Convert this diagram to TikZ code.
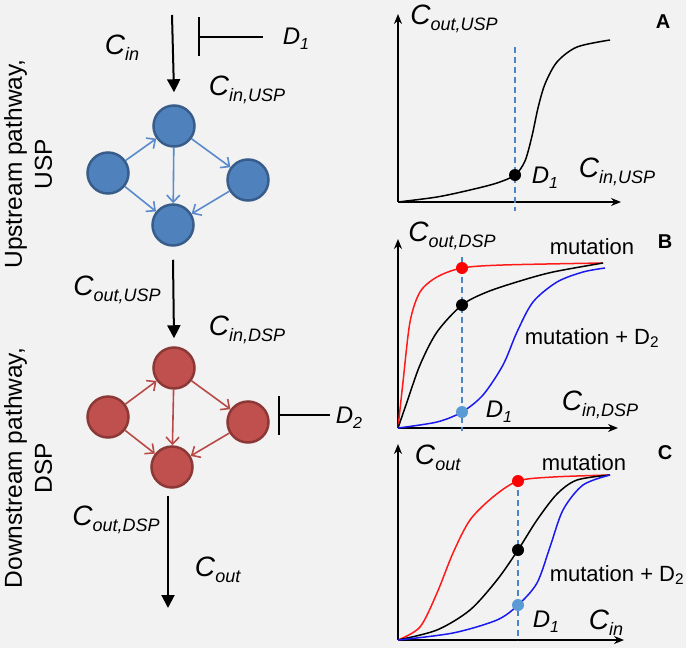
\documentclass[tikz,border=0pt]{standalone}
\usepackage{fontspec}
\setmainfont{Liberation Sans}
\usetikzlibrary{arrows.meta}

\definecolor{bg}{HTML}{F2F2F2}
\definecolor{uspfill}{HTML}{4F81BD}
\definecolor{uspdraw}{HTML}{385D8A}
\definecolor{uspedge}{HTML}{5A8ACB}
\definecolor{dspfill}{HTML}{C0504D}
\definecolor{dspdraw}{HTML}{8C3836}
\definecolor{dspedge}{HTML}{B84A47}
\definecolor{cutblue}{HTML}{4A86C5}
\definecolor{dotblue}{HTML}{5B9BD5}
\definecolor{mutred}{HTML}{FF1A1A}
\definecolor{drugblue}{HTML}{1A1AF0}

% concentration labels: big italic letter, lowered italic index
\newcommand\clbl[2]{\textit{#1}\raisebox{-6pt}{\fontsize{18}{18}\selectfont\textit{#2}}}
\newcommand\dlbl[2]{\textit{#1}\raisebox{-5pt}{\fontsize{16}{16}\selectfont\textit{#2}}}

\tikzset{
  lbl/.style={inner sep=0pt, font=\fontsize{28}{30}\selectfont},
  drug/.style={inner sep=0pt, font=\fontsize{24}{26}\selectfont},
  txt/.style={inner sep=0pt, font=\fontsize{22}{24}\selectfont},
  panel/.style={inner sep=0pt, font=\fontsize{20}{20}\selectfont\bfseries},
  side/.style={inner sep=0pt, font=\fontsize{24.5}{30}\selectfont, align=center, rotate=90, anchor=north},
  usp/.style={circle, draw=uspdraw, fill=uspfill, line width=2.5pt, minimum size=41pt, inner sep=0pt},
  dsp/.style={circle, draw=dspdraw, fill=dspfill, line width=2.5pt, minimum size=41pt, inner sep=0pt},
  uedge/.style={uspedge, line width=1.6pt, -{Straight Barb[length=7pt,width=13pt]}},
  dedge/.style={dspedge, line width=1.6pt, -{Straight Barb[length=7pt,width=13pt]}},
  flow/.style={line width=2pt, -{Triangle[length=13pt,width=13pt]}},
  inh/.style={line width=2.5pt},
  axis/.style={line width=1.5pt, -{Stealth[length=10pt,width=8pt]}},
  cut/.style={cutblue, line width=1.5pt, dash pattern=on 6pt off 4pt},
  curve/.style={line width=1.5pt},
  dot/.style={circle, inner sep=0pt, minimum size=12pt}
}

\begin{document}
\begin{tikzpicture}[x=1pt, y=-1pt]
  \fill[bg] (0,0) rectangle (686,648);
  \useasboundingbox (0,0) rectangle (686,648);

  % Side titles
  \node[side] (uptitle) at (4,164) {Upstream pathway,\\USP};
  \node[side] (dntitle) at (4,468) {Downstream pathway,\\DSP};

  % Upstream pathway
  \node[usp] (ut) at (174,126) {};
  \node[usp] (ul) at (108,173) {};
  \node[usp] (ur) at (248,180) {};
  \node[usp] (ub) at (173,225) {};
  \draw[uedge] (ul) -- (ut);
  \draw[uedge] (ul) -- (ub);
  \draw[uedge] (ut) -- (ub);
  \draw[uedge] (ut) -- (ur);
  \draw[uedge] (ur) -- (ub);

  \coordinate (cin) at (172,15);
  \draw[flow] (cin) -- ([yshift=12pt]ut.north);
  \node[lbl] (cinlbl) at (122,48) {\clbl{C}{in}};
  \node[lbl] (cinusp) at (247,90) {\clbl{C}{in,USP}};

  % Drug 1 blocks the input
  \node[drug] (d1) at (296,39) {\dlbl{D}{1}};
  \coordinate (bar1) at (199,37);
  \draw[inh] (199,17) -- (199,56);
  \draw[inh] ([xshift=-20pt]d1.west |- bar1) -- (bar1);

  % Downstream pathway
  \node[dsp] (rt) at (174,368) {};
  \node[dsp] (rl) at (108,417) {};
  \node[dsp] (rr) at (248,422) {};
  \node[dsp] (rb) at (172,467) {};
  \draw[dedge] (rl) -- (rt);
  \draw[dedge] (rl) -- (rb);
  \draw[dedge] (rt) -- (rb);
  \draw[dedge] (rt) -- (rr);
  \draw[dedge] (rr) -- (rb);

  \draw[flow] ([yshift=-13pt]ub.south) -- ([yshift=8pt]rt.north);
  \node[lbl] (coutusp) at (117,290) {\clbl{C}{out,USP}};
  \node[lbl] (cindsp) at (247,330) {\clbl{C}{in,DSP}};

  % Drug 2 acts on the DSP
  \node[drug] (d2) at (349,418) {\dlbl{D}{2}};
  \coordinate (bar2) at (279,415);
  \draw[inh] (279,396) -- (279,435);
  \draw[inh] ([xshift=-6pt]d2.west |- bar2) -- (bar2);

  \coordinate (cout) at (168,608);
  \draw[flow] ([xshift=-4pt,yshift=-7pt]rb.south) -- (cout);
  \node[lbl] (coutdsp) at (116,520) {\clbl{C}{out,DSP}};
  \node[lbl] (coutlbl) at (218,570) {\clbl{C}{out}};

  % Panel A
  \coordinate (oa) at (398,202);
  \draw[axis] (oa) -- (398,14);
  \draw[axis] (oa) -- (621,202);
  \draw[cut] (515,47) -- (515,211);
  \draw[curve] plot[smooth] coordinates {(398,202) (437,197) (470,190) (497,183)
    (515,175) (525,161) (532,136) (538,108) (545,84) (557,62) (577,47) (610,40)};
  \node[dot, fill=black] (pa) at (515,175) {};
  \node[lbl] (ayl) at (454,19) {\clbl{C}{out,USP}};
  \node[lbl] (axl) at (617,172) {\clbl{C}{in,USP}};
  \node[drug] (ad) at (545,178) {\dlbl{D}{1}};
  \node[panel] (pnla) at (663,22) {A};

  % Panel B
  \coordinate (ob) at (398,428);
  \draw[axis] (ob) -- (398,239);
  \draw[axis] (ob) -- (618,428);
  \draw[cut] (462,257) -- (462,431);
  \draw[curve, mutred] plot[smooth] coordinates {(398,428) (403,382) (410,322)
    (420,292) (437,277) (462,268) (503,265) (603,263)};
  \draw[curve] plot[smooth] coordinates {(398,428) (407,402) (420,365) (437,332)
    (462,305) (487,292) (520,281) (553,272) (603,263)};
  \draw[curve, drugblue] plot[smooth] coordinates {(398,428) (437,422) (462,412)
    (483,395) (503,365) (517,332) (533,302) (557,282) (583,272) (605,268)};
  \node[dot, fill=red] (pbr) at (462,268) {};
  \node[dot, fill=black] (pbk) at (462,305) {};
  \node[dot, fill=dotblue] (pbb) at (462,412) {};
  \node[lbl] (byl) at (452,236) {\clbl{C}{out,DSP}};
  \node[lbl] (bxl) at (600,405) {\clbl{C}{in,DSP}};
  \node[drug] (bd) at (499,412) {\dlbl{D}{1}};
  \node[txt] (bmut) at (592,247) {mutation};
  \node[txt] (bmd) at (592,338) {mutation + D\textsubscript{2}};
  \node[panel] (pnlb) at (665,242) {B};

  % Panel C
  \coordinate (oc) at (398,640);
  \draw[axis] (oc) -- (398,444);
  \draw[axis] (oc) -- (624,640);
  \draw[cut] (518,480) -- (518,640);
  \draw[curve, mutred] plot[smooth] coordinates {(398,640) (420,627) (437,593)
    (453,553) (470,520) (493,497) (518,481) (553,477) (610,475)};
  \draw[curve] plot[smooth] coordinates {(398,640) (437,630) (470,610) (497,580)
    (518,550) (537,520) (557,494) (577,480) (610,475)};
  \draw[curve, drugblue] plot[smooth] coordinates {(398,640) (453,633) (497,620)
    (518,605) (537,583) (550,547) (563,510) (583,485) (610,475)};
  \node[dot, fill=red] (pcr) at (518,481) {};
  \node[dot, fill=black] (pck) at (518,550) {};
  \node[dot, fill=dotblue] (pcb) at (518,605) {};
  \node[lbl] (cyl) at (438,458) {\clbl{C}{out}};
  \node[lbl] (cxl) at (606,623) {\clbl{C}{in}};
  \node[drug] (cd) at (546,622) {\dlbl{D}{1}};
  \node[txt] (cmut) at (584,463) {mutation};
  \node[txt] (cmd) at (617,575) {mutation + D\textsubscript{2}};
  \node[panel] (pnlc) at (665,453) {C};
\end{tikzpicture}
\end{document}
